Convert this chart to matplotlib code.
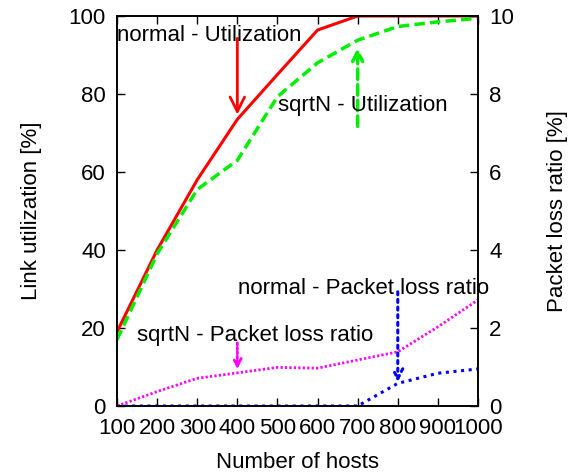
import matplotlib
matplotlib.use('Agg')
import matplotlib.pyplot as plt

plt.rcParams['font.family'] = ['Liberation Sans', 'DejaVu Sans']
plt.rcParams['font.size'] = 16

# data
hosts = [100, 200, 300, 400, 500, 600, 700, 800, 900, 1000]
util_normal = [19, 40, 58, 73.5, 85, 96.4, 100, 100, 100, 100]
util_sqrtn = [17, 39, 55.5, 63, 79.3, 88, 93.8, 97.3, 98.5, 99.4]
loss_normal = [0, 0, 0, 0, 0, 0, 0, 0.58, 0.84, 0.95]
loss_sqrtn = [0, 0.37, 0.71, 0.85, 0.99, 0.97, 1.18, 1.39, 2.03, 2.72]

fig = plt.figure(figsize=(5.75, 4.76), dpi=100)
ax = fig.add_axes([117/575, 70/476, 361/575, 390/476])
ax2 = ax.twinx()

ax.plot(hosts, util_normal, color='red', lw=2.2)
ax.plot(hosts, util_sqrtn, color='#00ee00', lw=2.5, ls=(0, (3, 1.5)))
ax2.plot(hosts, loss_normal, color='blue', lw=2.2, ls=(0, (1, 1.5)))
ax2.plot(hosts, loss_sqrtn, color='magenta', lw=2.0, ls=(0, (0.8, 0.8)))

ax.set_xlim(100, 1000)
ax.set_ylim(0, 100)
ax2.set_ylim(0, 10)
ax.set_xticks(hosts)
ax.set_yticks(range(0, 101, 20))
ax2.set_yticks(range(0, 11, 2))

ax.tick_params(axis='y', direction='in', length=6, width=1, labelsize=16, pad=8)
ax.tick_params(axis='x', direction='in', length=6, width=1, top=True, labelsize=16, pad=9)
ax2.tick_params(direction='in', length=6, width=1, labelsize=16, pad=8)
for a in (ax, ax2):
    for s in a.spines.values():
        s.set_linewidth(1.2)

ax.set_xlabel('Number of hosts', fontsize=16, labelpad=9)
ax.set_ylabel('Link utilization [%]', fontsize=16, labelpad=19)
ax2.set_ylabel('Packet loss ratio [%]', fontsize=16, labelpad=24)

# annotations
ax.annotate('', xy=(400, 74), xytext=(400, 95),
            arrowprops=dict(arrowstyle='->', color='red', lw=2, mutation_scale=26))
ax.text(101, 95, 'normal - Utilization', fontsize=16, va='center', ha='left')
ax.annotate('', xy=(700, 92.6), xytext=(700, 71),
            arrowprops=dict(arrowstyle='->', color='#00ee00', lw=2.5, ls=(0, (3, 1.5)),
                            mutation_scale=18))
ax.text(502, 77, 'sqrtN - Utilization', fontsize=16, va='center', ha='left')
ax2.annotate('', xy=(800, 0.54), xytext=(800, 3.0),
             arrowprops=dict(arrowstyle='->', color='blue', lw=2.2, ls=(0, (1, 1.5)),
                             mutation_scale=18))
ax2.text(402, 3.0, 'normal - Packet loss ratio', fontsize=16, va='center', ha='left')
ax2.annotate('', xy=(400, 0.87), xytext=(400, 1.69),
             arrowprops=dict(arrowstyle='->', color='magenta', lw=2, ls=(0, (0.8, 0.8)),
                             mutation_scale=14))
ax2.text(150, 1.82, 'sqrtN - Packet loss ratio', fontsize=16, va='center', ha='left')

fig.savefig('out.png', dpi=100)
